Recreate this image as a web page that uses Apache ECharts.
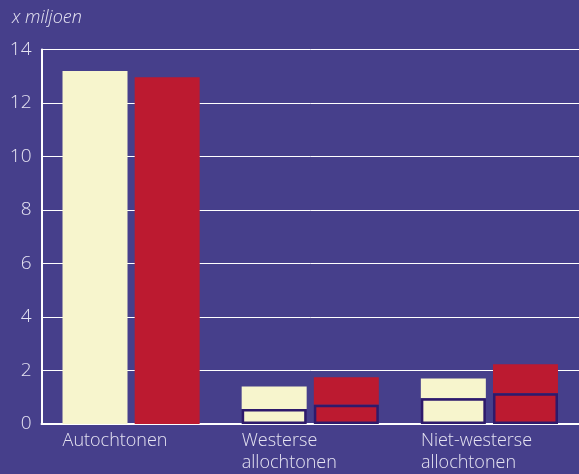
<!DOCTYPE html>
<html><head><meta charset="utf-8">
<script src="https://cdn.jsdelivr.net/npm/echarts@6/dist/echarts.min.js"></script>
<style>html,body{margin:0;padding:0;background:#463f8b}#c{width:579px;height:474px}</style>
</head><body><div id="c"></div>
<script>
var categories = ['Autochtonen', 'Westerse\nallochtonen', 'Niet-westerse\nallochtonen'];
var creamTotal = [13.2, 1.4, 1.7];
var creamInner = [null, 0.56, 0.96];
var redTotal = [12.96, 1.75, 2.23];
var redInner = [null, 0.72, 1.15];
var yTicks = { min: 0, max: 14, interval: 2 };
var unitLabel = 'x miljoen';

var CREAM = '#f7f5cd', RED = '#bc1a30', BORDER = '#2e1a6b', TXT = '#e6e4f2';
var FONT = 'Open Sans';
function rest(t, i) { return t.map(function (v, k) { return v - (i[k] || 0); }); }

var chart = echarts.init(document.getElementById('c'));
chart.setOption({
  backgroundColor: '#463f8b',
  animation: false,
  textStyle: { fontFamily: FONT },
  graphic: [{ type: 'text', left: 12, top: 9, style: { text: unitLabel, fill: TXT, font: 'italic 350 18px "Open Sans"' } }],
  grid: { left: 41.5, top: 49.5, width: 541, bottom: 50, containLabel: false },
  xAxis: {
    type: 'category', data: categories,
    axisLine: { lineStyle: { color: '#ffffff', width: 2 } },
    axisTick: { show: false },
    axisLabel: {
      margin: 6, interval: 0,
      formatter: function (v) { return v.split('\n').map(function (s) { return '{a|' + s + '}'; }).join('\n'); },
      rich: { a: { width: 137, align: 'left', fontSize: 18, fontWeight: 350, lineHeight: 22, color: TXT, fontFamily: FONT } }
    }
  },
  yAxis: {
    type: 'value', min: yTicks.min, max: yTicks.max, interval: yTicks.interval,
    axisLine: { show: true, lineStyle: { color: '#ffffff', width: 2 } },
    axisTick: { show: false },
    splitLine: { lineStyle: { color: '#ffffff', width: 1 } },
    axisLabel: { fontSize: 19, fontWeight: 350, color: TXT, margin: 10, fontFamily: FONT }
  },
  series: [
    { type: 'bar', stack: 'c', data: creamInner, barWidth: 65, barGap: '11%', z: 3,
      itemStyle: { color: CREAM, borderColor: BORDER, borderWidth: 2.5 } },
    { type: 'bar', stack: 'c', data: rest(creamTotal, creamInner), barWidth: 65, barGap: '11%', z: 2,
      itemStyle: { color: CREAM } },
    { type: 'bar', stack: 'r', data: redInner, barWidth: 65, barGap: '11%', z: 3,
      itemStyle: { color: RED, borderColor: BORDER, borderWidth: 2.5 } },
    { type: 'bar', stack: 'r', data: rest(redTotal, redInner), barWidth: 65, barGap: '11%', z: 2,
      itemStyle: { color: RED } }
  ]
});
</script></body></html>
